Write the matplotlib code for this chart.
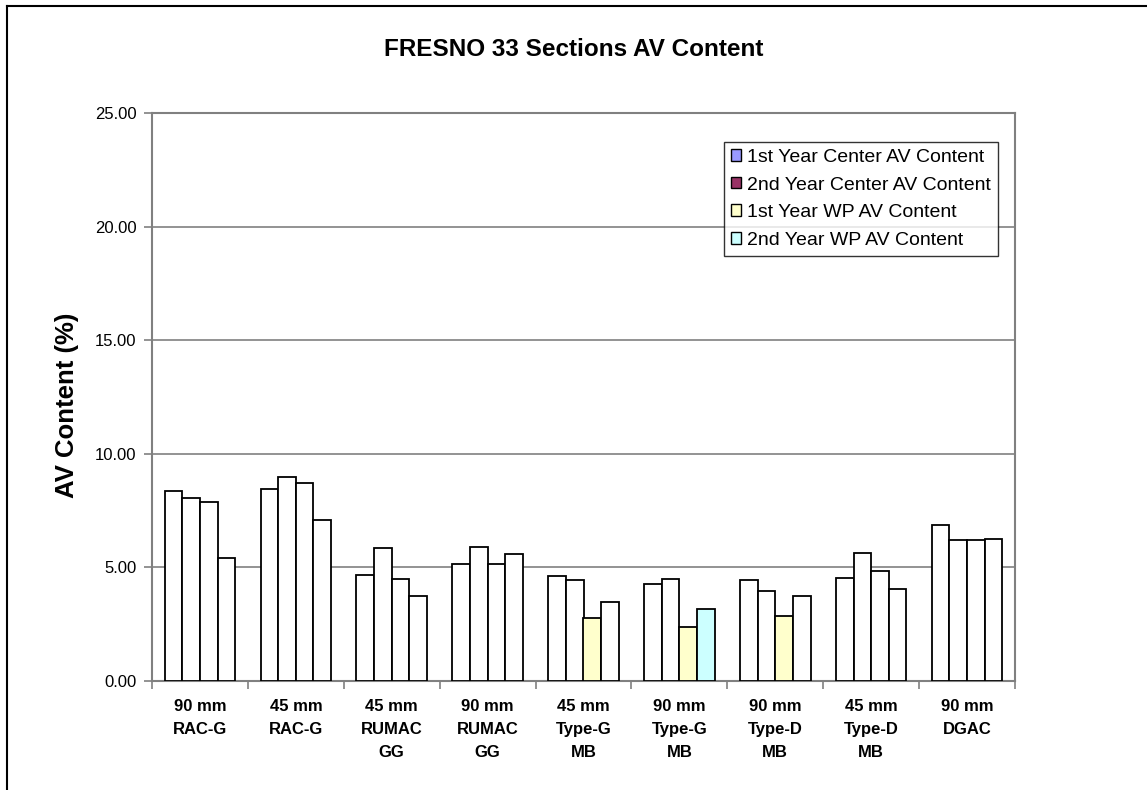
import numpy as np
import matplotlib.pyplot as plt
from matplotlib.lines import Line2D
from matplotlib.patches import Patch

plt.rcParams['font.family'] = ['Liberation Sans', 'DejaVu Sans']

sections = ['90 mm\nRAC-G', '45 mm\nRAC-G', '45 mm\nRUMAC\nGG', '90 mm\nRUMAC\nGG',
            '45 mm\nType-G\nMB', '90 mm\nType-G\nMB', '90 mm\nType-D\nMB',
            '45 mm\nType-D\nMB', '90 mm\nDGAC']

center_y1 = [8.38, 8.43, 4.66, 5.16, 4.63, 4.29, 4.46, 4.53, 6.85]
center_y2 = [8.04, 9.00, 5.85, 5.88, 4.46, 4.49, 3.97, 5.63, 6.21]
wp_y1 = [7.87, 8.72, 4.51, 5.15, 2.78, 2.38, 2.87, 4.82, 6.21]
wp_y2 = [5.43, 7.07, 3.76, 5.57, 3.49, 3.16, 3.76, 4.04, 6.24]

series_names = ['1st Year Center AV Content', '2nd Year Center AV Content',
                '1st Year WP AV Content', '2nd Year WP AV Content']
series_colors = ['#9999FF', '#993366', '#FFFFCC', '#CCFFFF']

# only these points keep the series fill, the rest are plain white
filled = [
    [False] * 9,
    [False] * 9,
    [False, False, False, False, True, True, True, False, False],
    [False, False, False, False, False, True, False, False, False],
]

fig = plt.figure(figsize=(11.47, 7.9), dpi=100)
ax = fig.add_axes([152 / 1147, 1 - 681 / 790, 863 / 1147, 568 / 790])

x = np.arange(len(sections))
bw = 0.184
series = [center_y1, center_y2, wp_y1, wp_y2]
for i, vals in enumerate(series):
    cols = [series_colors[i] if f else 'white' for f in filled[i]]
    ax.bar(x + (i - 1.5) * bw, vals, bw, color=cols, edgecolor='black',
           linewidth=1.3, zorder=3)

ax.set_xlim(-0.5, len(sections) - 0.5)
ax.set_ylim(0, 25)
ax.set_yticks(np.arange(0, 26, 5))
ax.set_yticklabels([f'{v:.2f}' for v in np.arange(0, 26, 5)], fontsize=12)
ax.yaxis.grid(True, color='#808080', linewidth=1.2, zorder=0)

# category labels sit between the boundary ticks
ax.set_xticks(np.arange(-0.5, len(sections), 1.0))
ax.set_xticklabels([])
ax.set_xticks(x, minor=True)
ax.set_xticklabels(sections, minor=True, fontsize=12, fontweight='bold',
                   va='top', linespacing=1.65)
ax.tick_params(axis='x', which='minor', length=0, pad=13)
ax.tick_params(axis='x', which='major', length=6, color='#808080', width=1.2)
ax.tick_params(axis='y', length=6, color='#808080', width=1.2, pad=5)

for s in ax.spines.values():
    s.set_color('#808080')
    s.set_linewidth(1.5)

ax.set_ylabel('AV Content (%)', fontsize=18.5, fontweight='bold')
ax.yaxis.set_label_coords((79 - 152) / 863, 0.485)
fig.text(0.5, 1 - 50 / 790, 'FRESNO 33 Sections AV Content', ha='center',
         va='center', fontsize=17.5, fontweight='bold')

handles = [Patch(facecolor=c, edgecolor='black', linewidth=1.0) for c in series_colors]
leg = ax.legend(handles, series_names, loc='upper right',
                bbox_to_anchor=(998 / 1147, 1 - 142 / 790), bbox_transform=fig.transFigure,
                fontsize=14, frameon=True, fancybox=False, handlelength=0.55,
                handleheight=0.55, handletextpad=0.3, labelspacing=0.55,
                borderpad=0.35, borderaxespad=0)
leg.get_frame().set_edgecolor('black')
leg.get_frame().set_linewidth(1.0)

# outer chart border: top and left edges
fig.add_artist(Line2D([7 / 1147, 1], [1 - 6 / 790, 1 - 6 / 790], transform=fig.transFigure,
                      color='black', linewidth=1.5))
fig.add_artist(Line2D([7 / 1147, 7 / 1147], [0, 1 - 6 / 790], transform=fig.transFigure,
                      color='black', linewidth=1.5))

fig.savefig('out.png', dpi=100)
